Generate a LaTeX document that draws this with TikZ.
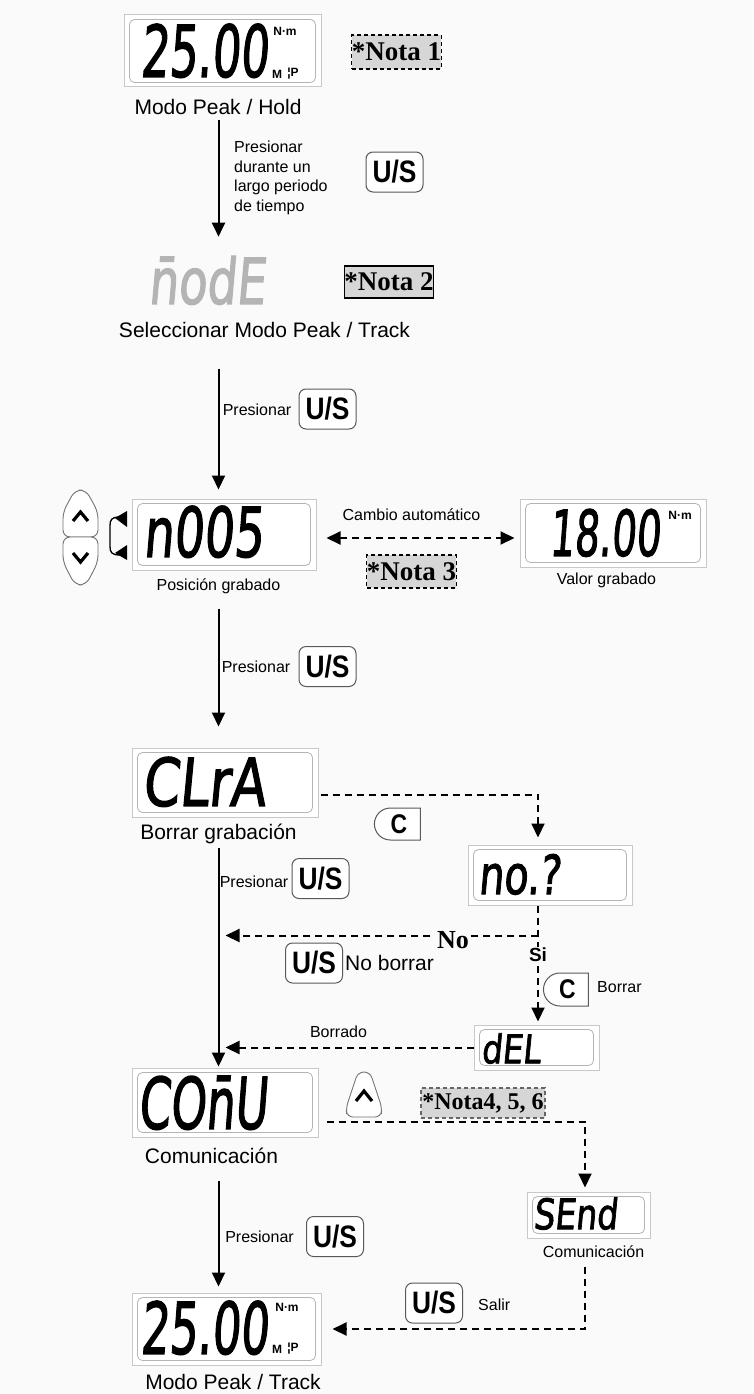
\documentclass[tikz,border=0pt]{standalone}
\usepackage{fontspec}
\usepackage{graphicx}
\setmainfont{Liberation Sans}
\newfontfamily\notafont{Liberation Serif}
\newfontfamily\keyfont[FakeStretch=0.85]{Liberation Sans}
\newfontfamily\lcdfont[FakeSlant=0.12,FakeBold=2]{DejaVu Sans}
\usetikzlibrary{arrows.meta,shapes.misc,positioning}

\definecolor{bgcol}{RGB}{250,250,250}
\definecolor{lcdedge}{RGB}{200,200,200}
\definecolor{notegray}{RGB}{214,214,214}
\definecolor{fadeseg}{RGB}{180,180,180}

\newcommand{\lcdtxt}[3]{\resizebox{#1pt}{#2pt}{\lcdfont #3}}

\tikzset{
  lcdbox/.style={draw=lcdedge, line width=1pt, fill=white, inner sep=0pt},
  lcdinner/.style={draw=lcdedge!90!black, line width=0.8pt, rounded corners=5pt},
  segtxt/.style={inner sep=0pt, anchor=south west},
  unittxt/.style={inner sep=0pt, font=\bfseries\fontsize{12}{12}\selectfont},
  usbtn/.style={draw=black!65, line width=1pt, fill=white, rounded corners=7pt, inner sep=0pt,
    minimum width=57pt, minimum height=40pt, font=\keyfont\bfseries\fontsize{31}{31}\selectfont},
  cbtn/.style={draw=black!65, line width=1pt, fill=white, rounded rectangle, rounded rectangle right arc=none,
    inner sep=0pt, minimum width=46pt, minimum height=32pt, font=\keyfont\bfseries\fontsize{27}{27}\selectfont},
  btnline/.style={draw=black!55, line width=0.9pt, fill=white, rounded corners=7pt},
  notabox/.style={fill=notegray, draw=black, dash pattern=on 4pt off 3pt, line width=1.1pt, inner sep=0pt,
    font=\notafont\bfseries\fontsize{27}{27}\selectfont},
  lbl/.style={inner sep=0pt, font=\fontsize{21}{24}\selectfont},
  lbls/.style={inner sep=0pt, font=\fontsize{16}{19.5}\selectfont},
  flow/.style={line width=2pt, -{Triangle[length=14pt,width=13pt]}},
  dflow/.style={line width=2pt, dash pattern=on 7pt off 5pt},
  darrow/.style={dflow, -{Triangle[length=14pt,width=13pt]}},
}

\begin{document}
\begin{tikzpicture}[x=1pt,y=-1pt]
\useasboundingbox (0,0) rectangle (753,1394);
\fill[bgcol] (0,0) rectangle (753,1394);
\coordinate (col) at (218.5,0);

% displays
\node[lcdbox, minimum width=197pt, minimum height=72pt] (d1) at (222.5,51) {};
\node[lcdbox, minimum width=184pt, minimum height=71pt] (d3) at (224,534.5) {};
\node[lcdbox, minimum width=186pt, minimum height=68pt] (d4) at (613,533) {};
\node[lcdbox, minimum width=186pt, minimum height=69pt] (d5) at (225,782.5) {};
\node[lcdbox, minimum width=164pt, minimum height=60pt] (d6) at (550,875) {};
\node[lcdbox, minimum width=125pt, minimum height=45pt] (d7) at (536.5,1047.5) {};
\node[lcdbox, minimum width=186pt, minimum height=69pt] (d8) at (225,1102.5) {};
\node[lcdbox, minimum width=123pt, minimum height=46pt] (d9) at (588.5,1215) {};
\node[lcdbox, minimum width=189pt, minimum height=72pt] (d10) at (226.5,1329) {};
\foreach \d in {d1,d3,d4,d5,d6,d7,d8,d9,d10}
  \draw[lcdinner] ([shift={(6,5)}]\d.north west) rectangle ([shift={(-6,-5)}]\d.south east);

% display readings
\node[segtxt] (d1t) at (140,78) {\lcdtxt{128}{53}{25.00}};
\node[unittxt] (d1u) at (285,31) {N·m};
\node[unittxt] (d1m) at (277,74) {M};
\node[unittxt] (d1p) at (293,74) {¦P};
\node[segtxt, text=fadeseg] (d2) at (148,305) {\lcdtxt{117}{48}{n̄odE}};
\node[segtxt] (d3t) at (143,558) {\lcdtxt{120}{51}{n005}};
\node[segtxt] (d4t) at (549,557) {\lcdtxt{111}{47}{18.00}};
\node[unittxt] (d4u) at (680,515) {N·m};
\node[segtxt] (d5t) at (142,807) {\lcdtxt{123}{49}{CLrA}};
\node[segtxt] (d6t) at (478,895) {\lcdtxt{82}{40}{no.?}};
\node[segtxt] (d7t) at (481,1064) {\lcdtxt{59}{30}{dEL}};
\node[segtxt] (d8t) at (138,1130) {\lcdtxt{129}{53}{COn̄U}};
\node[segtxt] (d9t) at (533,1230) {\lcdtxt{84}{32}{SEnd}};
\node[segtxt] (d10t) at (140,1355) {\lcdtxt{128}{53}{25.00}};
\node[unittxt] (d10u) at (287,1307) {N·m};
\node[unittxt] (d10m) at (277,1349) {M};
\node[unittxt] (d10p) at (293,1349) {¦P};

% captions
\node[lbl] (l1) at (218,107) {Modo Peak / Hold};
\node[lbl] (l2) at (264.5,330) {Seleccionar Modo Peak / Track};
\node[lbls] (l3) at (218.5,586) {Posición grabado};
\node[lbls] (l4) at (606.5,580) {Valor grabado};
\node[lbl] (l5) at (218.5,834) {Borrar grabación};
\node[lbl] (l6) at (211.5,1156) {Comunicación};
\node[lbls] (l7) at (593.5,1252) {Comunicación};
\node[lbl] (l8) at (233,1382) {Modo Peak / Track};

% notes
\node[notabox, minimum width=89pt, minimum height=34pt] (n1) at (396.5,52) {*Nota 1};
\node[notabox, solid, line width=1.5pt, minimum width=88pt, minimum height=32pt] (n2) at (389,282) {*Nota 2};
\node[notabox, minimum width=89pt, minimum height=33pt] (n3) at (411.5,571.5) {*Nota 3};
\node[notabox, draw=black!60, minimum width=124pt, minimum height=30pt,
  font=\notafont\bfseries\fontsize{24}{24}\selectfont] (n4) at (483,1103) {*Nota4, 5, 6};

% keys
\node[usbtn] (u1) at (394.5,172) {U/S};
\node[usbtn] (u2) at (327.5,409) {U/S};
\node[usbtn] (u3) at (327.5,666.5) {U/S};
\node[usbtn] (u4) at (320.5,878.5) {U/S};
\node[usbtn] (u5) at (314,963) {U/S};
\node[usbtn] (u6) at (434,1303) {U/S};
\node[usbtn] (u7) at (335,1236.5) {U/S};
\node[cbtn] (c1) at (399,824) {C};
\node[cbtn, minimum width=45pt, minimum height=33pt] (c2) at (567.5,989.5) {C};

% up / down keys beside the position display
\draw[btnline] (63,537) -- (63,512) -- (75,490) -- (86,490) -- (98,512) -- (98,537) -- cycle;
\draw[btnline] (63,537) -- (98,537) -- (98,562) -- (86,585) -- (75,585) -- (63,562) -- cycle;
\draw[line width=3.2pt] (73,521) -- (80.5,512) -- (88,521);
\draw[line width=3.2pt] (73,553) -- (80.5,562) -- (88,553);
\draw[line width=1.3pt] (120,517) .. controls (111,517) and (110,520) .. (110,526) -- (110,546)
  .. controls (110,552) and (111,555) .. (120,555);
\fill (115,518) -- (127,511) -- (127,527) -- cycle;
\fill (115,553) -- (127,545) -- (127,560) -- cycle;

% up key beside COnU
\draw[btnline, rounded corners=6pt] (358,1072) -- (370,1072) -- (382,1108) -- (381,1117) -- (347,1117)
  -- (346,1108) -- cycle;
\draw[line width=3.2pt] (356,1101) -- (364,1091) -- (372,1101);

% texts on the arrows
\node[lbls, anchor=west, align=left] (t1) at (234,177.7) {Presionar\\durante un\\largo periodo\\de tiempo};
\node[lbls] (t2) at (257,410) {Presionar};
\node[lbls] (t3) at (256,667) {Presionar};
\node[lbls] (t4) at (254,882) {Presionar};
\node[lbls] (t5) at (259.5,1237) {Presionar};
\node[lbls] (ca) at (411.5,515) {Cambio automático};
\node[lbl, anchor=west] (nb) at (345,963) {No borrar};
\node[lbls, anchor=west] (bo) at (597,987) {Borrar};
\node[lbls] (bd) at (338.5,1032) {Borrado};
\node[lbls, anchor=west] (sa) at (478,1305) {Salir};

% main flow
\draw[flow, shorten <=5pt, shorten >=19pt] (col |- l1.south) -- (col |- d2.north);
\draw[flow, shorten <=31pt, shorten >=9pt] (col |- l2.south) -- (col |- d3.north);
\draw[flow, shorten <=15pt, shorten >=21pt] (col |- l3.south) -- (col |- d5.north);
\draw[flow, shorten <=4pt, shorten >=1pt] (col |- l5.south) -- (col |- d8.north);
\draw[flow, shorten <=17pt, shorten >=6pt] (col |- l6.south) -- (col |- d10.north);

% automatic change
\draw[dflow, {Triangle[length=14pt,width=13pt]}-{Triangle[length=14pt,width=13pt]}, shorten <=10pt, shorten >=5pt]
  ([shift={(0,3.5)}]d3.east) -- ([shift={(0,3.5)}]d3.east -| d4.west);

% clear branch
\coordinate (br) at ([shift={(-12,0)}]d6.north);
\coordinate (bn) at ([shift={(-12,30)}]d6.south);
\draw[darrow, shorten >=7pt] ([shift={(2,12)}]d5.east) -| (br);
\draw[darrow, shorten >=3pt] (bn |- d6.south) -- (bn |- d7.north);
\draw[darrow, shorten >=7pt] (bn) -- (col |- bn);
\draw[darrow, shorten >=7pt] (d7.west) -- (col |- d7.west);
\node[inner sep=2pt, fill=bgcol, font=\notafont\bfseries\fontsize{26}{26}\selectfont] (no) at (453,940) {No};
\node[inner sep=1pt, fill=bgcol, font=\bfseries\fontsize{19}{19}\selectfont] (si) at (538,955) {Si};

% communication branch
\coordinate (bs) at ([shift={(-3.5,0)}]d9.north);
\draw[darrow, shorten >=4pt] ([shift={(8,19)}]d8.east) -| (bs);
\draw[darrow, shorten <=9pt, shorten >=11pt] (bs |- l7.south) |- (d10.east);
\end{tikzpicture}
\end{document}
